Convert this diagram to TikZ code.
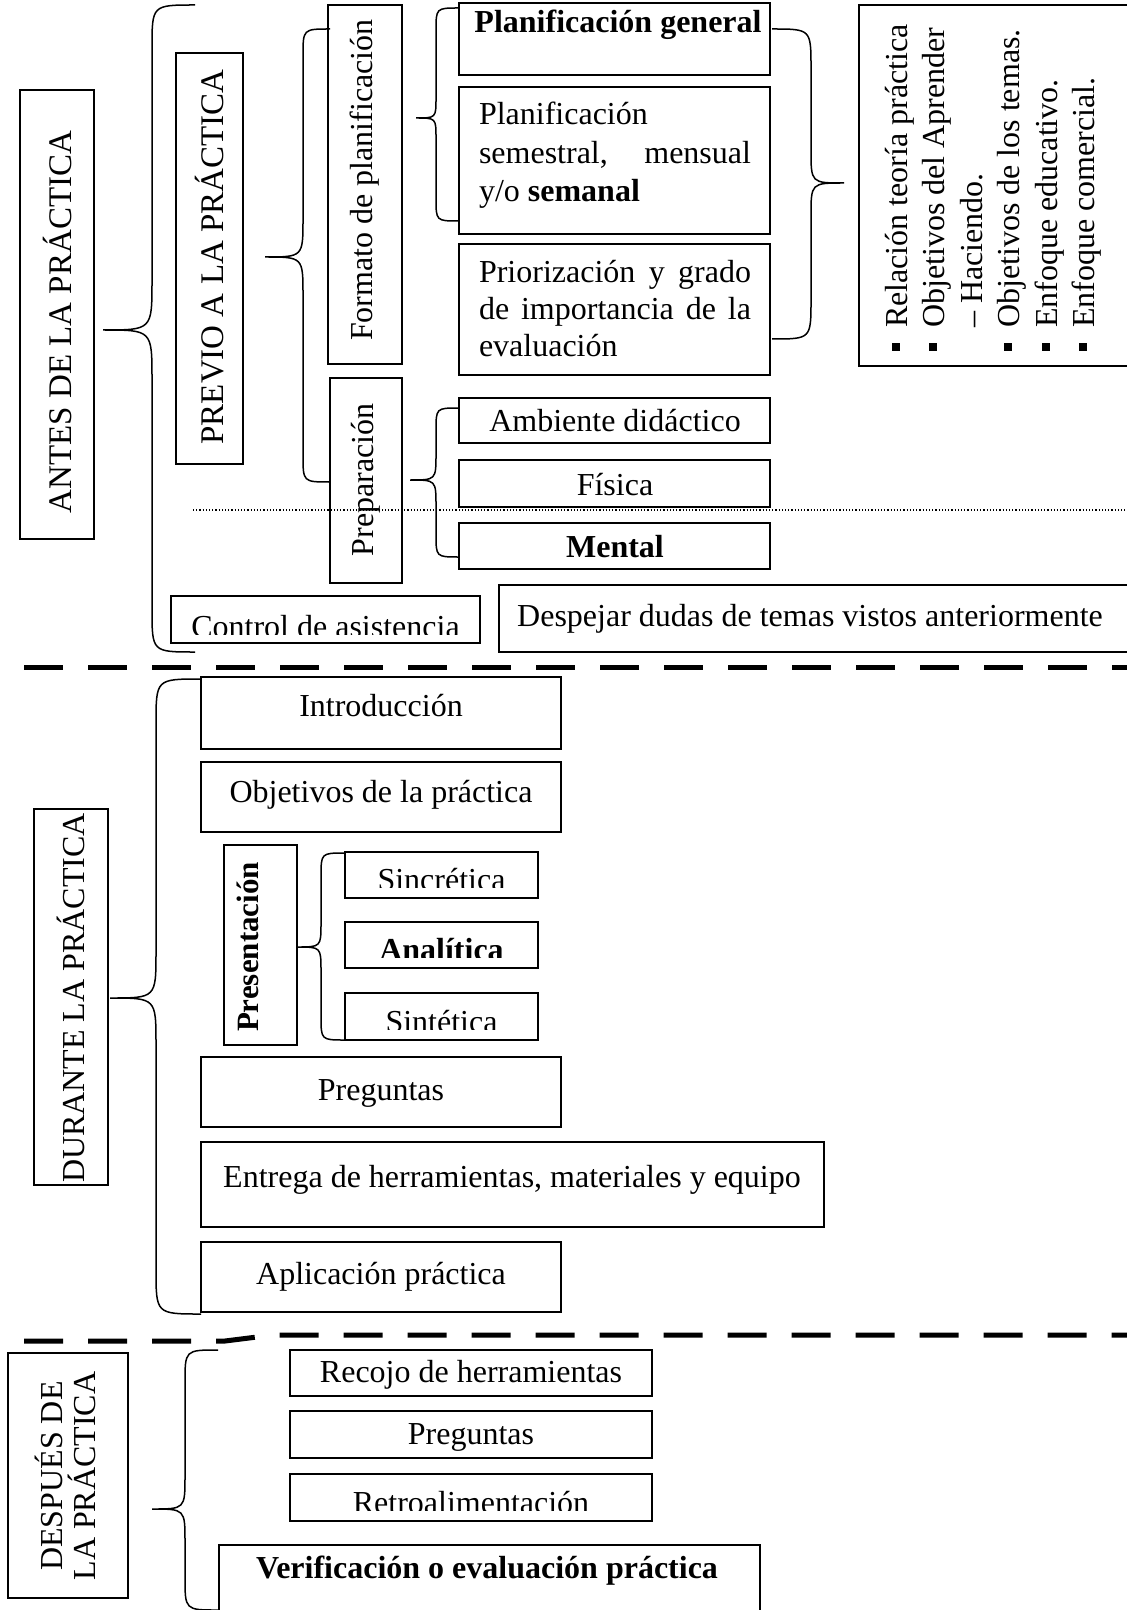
\documentclass[tikz,border=0pt]{standalone}
\usepackage{fontspec}
\setmainfont{Liberation Serif}
\usetikzlibrary{fit}
% left/right curly brace: tipx, tipy, spinex, endx, ytop, ybottom
\newcommand\Brace[6]{%
  \draw[brc] (#4,#5) .. controls (#3,#5) .. ({#3},{#5+abs(#4-#3)})
    -- ({#3},{#2-abs(#3-#1)}) .. controls (#3,#2) .. (#1,#2)
    .. controls (#3,#2) .. ({#3},{#2+abs(#3-#1)})
    -- ({#3},{#6-abs(#4-#3)}) .. controls (#3,#6) .. (#4,#6);}
% box: name, x1, y1, x2, y2
\newcommand\BX[5]{\node[box, fit={(#2,#3) (#4,#5)}] (#1) {};}
% clipped text: name, x1, y1, x2, clip-bottom, baseline, text
\newcommand\CT[7]{\begin{scope}\clip (#2,#3) rectangle (#4,#5);
  \node[anchor=base] (#1) at ({(#2+#4)/2},#6) {#7};\end{scope}}
\begin{document}
\begin{tikzpicture}[x=0.5pt,y=-0.5pt,
  every node/.style={font=\fontsize{16}{19}\selectfont, inner sep=0pt, outer sep=0pt},
  box/.style={draw, line width=1pt, inner sep=0pt},
  brc/.style={line width=0.75pt},
  vt/.style={rotate=90},
  big/.style={font=\fontsize{16.5}{19}\selectfont},
  sep/.style={line width=2.5pt, dash pattern=on 19.5pt off 12.5pt},
  bul/.style={fill=black},
]
\useasboundingbox (0,0) rectangle (1127,1610);

% ===================== ANTES =====================
\BX{antes}{20}{90}{94}{539}
\node[vt, big] (antesT) at (57,322) {ANTES DE LA PRÁCTICA};
\Brace{103}{330}{152}{195}{5}{652}

\BX{previo}{176}{53}{243}{464}
\node[vt, big] (previoT) at (210,257) {PREVIO A LA PRÁCTICA};
\Brace{265}{257}{303}{330}{29}{482}

\BX{formato}{328}{5}{402}{364}
\node[vt] (formatoT) at (365,180) {Formato de planificación};
\BX{prep}{330}{378}{402}{583}
\node[vt] (prepT) at (366,480) {Preparación};

\Brace{416}{118}{436}{459}{8}{221}
\BX{pgen}{459}{3}{770}{75}
\node[anchor=base] (pgenT) at (618,33) {\bfseries Planificación general};
\BX{psem}{459}{87}{770}{234}
\node[anchor=base west] (psem1) at (479,125) {Planificación};
\node[anchor=base west] (psem2) at (479,164) {\makebox[136pt][s]{semestral, mensual}};
\node[anchor=base west] (psem3) at (479,202) {y/o \textbf{semanal}};
\BX{prio}{459}{244}{770}{375}
\node[anchor=base west] (prio1) at (479,283) {\makebox[136pt][s]{Priorización y grado}};
\node[anchor=base west] (prio2) at (479,320) {\makebox[136pt][s]{de importancia de la}};
\node[anchor=base west] (prio3) at (479,357) {evaluación};

\Brace{844}{183}{811}{772}{29}{339}
\BX{lista}{859}{5}{1140}{366}
\node[vt, anchor=base west] (l1) at (907,328) {Relación teoría práctica};
\node[vt, anchor=base west] (l2) at (944,328) {Objetivos del Aprender};
\node[vt, anchor=base west] (l3) at (982,328) {– Haciendo.};
\node[vt, anchor=base west] (l4) at (1019,328) {Objetivos de los temas.};
\node[vt, anchor=base west] (l5) at (1057,328) {Enfoque educativo.};
\node[vt, anchor=base west] (l6) at (1094,328) {Enfoque comercial.};
\fill[bul] (892,343) rectangle (900,351);
\fill[bul] (929,343) rectangle (937,351);
\fill[bul] (1004,343) rectangle (1012,351);
\fill[bul] (1042,343) rectangle (1050,351);
\fill[bul] (1079,343) rectangle (1087,351);

\Brace{410}{480}{436}{459}{408}{557}
\BX{amb}{459}{398}{770}{443}
\node[anchor=base] (ambT) at (615,431) {Ambiente didáctico};
\BX{fis}{459}{460}{770}{507}
\node[anchor=base] (fisT) at (615,495) {Física};
\BX{men}{459}{523}{770}{569}
\node[anchor=base] (menT) at (615,557) {\bfseries Mental};
\draw[line width=0.6pt, densely dotted] (193,510) -- (1127,510);

\CT{controlT}{171}{596}{480}{634}{637}{Control de asistencia}
\BX{control}{171}{596}{480}{643}
\BX{despejar}{499}{585}{1140}{652}
\node[anchor=base] (despejarT) at (810,626) {Despejar dudas de temas vistos anteriormente};

\draw[sep] (24,667) -- (1127,667);

% ===================== DURANTE =====================
\BX{durante}{34}{809}{108}{1185}
\node[vt] (duranteT) at (71,998) {DURANTE LA PRÁCTICA};
\Brace{110}{998}{156}{201}{679}{1314}

\BX{intro}{201}{677}{561}{749}
\node[anchor=base] (introT) at (381,716) {Introducción};
\BX{obj}{201}{762}{561}{832}
\node[anchor=base] (objT) at (381,802) {Objetivos de la práctica};
\BX{pres}{224}{845}{297}{1045}
\node[vt, font=\fontsize{15.5}{18}\selectfont] (presT) at (248,947) {\bfseries Presentación};
\Brace{297}{947}{321}{345}{853}{1040}
\CT{sincT}{345}{852}{538}{887}{890}{Sincrética}
\BX{sinc}{345}{852}{538}{898}
\CT{analT}{345}{922}{538}{957}{960}{\bfseries Analítica}
\BX{anal}{345}{922}{538}{968}
\CT{sintT}{345}{993}{538}{1029}{1032}{Sintética}
\BX{sint}{345}{993}{538}{1040}
\BX{preg}{201}{1057}{561}{1127}
\node[anchor=base] (pregT) at (381,1100) {Preguntas};
\BX{entrega}{201}{1142}{824}{1227}
\node[anchor=base] (entregaT) at (512,1187) {Entrega de herramientas, materiales y equipo};
\BX{aplic}{201}{1242}{561}{1312}
\node[anchor=base] (aplicT) at (381,1284) {Aplicación práctica};

\draw[sep] (24,1341) -- (225,1341) -- (273,1335) -- (1127,1335);

% ===================== DESPUES =====================
\BX{despues}{8}{1353}{128}{1598}
\node[vt, align=center, font=\fontsize{16}{16.5}\selectfont] (despuesT) at (65,1476) {DESPUÉS DE\\LA PRÁCTICA};
\Brace{152}{1509}{185}{218}{1350}{1610}
\BX{recojo}{290}{1350}{652}{1396}
\node[anchor=base] (recojoT) at (471,1382) {Recojo de herramientas};
\BX{preg2}{290}{1411}{652}{1458}
\node[anchor=base] (preg2T) at (471,1444) {Preguntas};
\CT{retroT}{290}{1474}{652}{1510}{1513}{Retroalimentación}
\BX{retro}{290}{1474}{652}{1521}
\BX{verif}{219}{1545}{760}{1615}
\node[anchor=base] (verifT) at (487,1578) {\bfseries Verificación o evaluación práctica};
\end{tikzpicture}
\end{document}
